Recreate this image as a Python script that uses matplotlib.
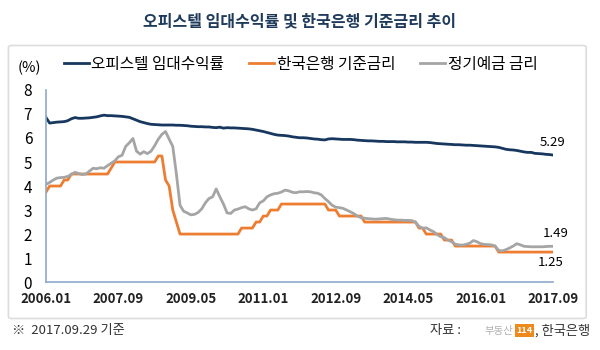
import numpy as np
import matplotlib.pyplot as plt
from matplotlib.patches import FancyBboxPatch

plt.rcParams['font.family'] = ['Noto Sans CJK KR', 'DejaVu Sans']

# 월별 데이터 (2006.01 ~ 2017.09)
tick_labels = ['2006.01', '2007.09', '2009.05', '2011.01',
               '2012.09', '2014.05', '2016.01', '2017.09']

officetel_yield = [
    6.85, 6.62, 6.64, 6.66, 6.67, 6.68, 6.72, 6.80, 6.85, 6.82, 6.82, 6.83,
    6.84, 6.86, 6.88, 6.92, 6.95, 6.93, 6.93, 6.92, 6.91, 6.90, 6.88, 6.86,
    6.80, 6.74, 6.68, 6.64, 6.60, 6.57, 6.56, 6.55, 6.54, 6.54, 6.54, 6.54,
    6.53, 6.53, 6.52, 6.51, 6.49, 6.48, 6.47, 6.47, 6.46, 6.46, 6.44, 6.43,
    6.45, 6.41, 6.43, 6.42, 6.42, 6.41, 6.40, 6.39, 6.38, 6.36, 6.33, 6.30,
    6.27, 6.23, 6.19, 6.15, 6.12, 6.11, 6.10, 6.08, 6.05, 6.03, 6.01, 6.01,
    6.00, 5.98, 5.96, 5.95, 5.93, 5.92, 5.96, 5.97, 5.96, 5.95, 5.94, 5.94,
    5.94, 5.93, 5.91, 5.90, 5.89, 5.88, 5.88, 5.87, 5.86, 5.86, 5.85, 5.85,
    5.85, 5.84, 5.84, 5.84, 5.83, 5.83, 5.82, 5.82, 5.82, 5.82, 5.81, 5.79,
    5.77, 5.76, 5.75, 5.74, 5.73, 5.72, 5.72, 5.71, 5.70, 5.70, 5.69, 5.68,
    5.67, 5.66, 5.65, 5.64, 5.63, 5.61, 5.57, 5.53, 5.51, 5.50, 5.48, 5.45,
    5.42, 5.40, 5.40, 5.36, 5.35, 5.34, 5.32, 5.31, 5.29,
]

base_rate = [
    3.75, 4.00, 4.00, 4.00, 4.00, 4.25, 4.25, 4.50, 4.50, 4.50, 4.50, 4.50,
    4.50, 4.50, 4.50, 4.50, 4.50, 4.50, 4.75, 5.00, 5.00, 5.00, 5.00, 5.00,
    5.00, 5.00, 5.00, 5.00, 5.00, 5.00, 5.00, 5.25, 5.25, 4.25, 4.00, 3.00,
    2.50, 2.00, 2.00, 2.00, 2.00, 2.00, 2.00, 2.00, 2.00, 2.00, 2.00, 2.00,
    2.00, 2.00, 2.00, 2.00, 2.00, 2.00, 2.25, 2.25, 2.25, 2.25, 2.50, 2.50,
    2.75, 2.75, 3.00, 3.00, 3.00, 3.25, 3.25, 3.25, 3.25, 3.25, 3.25, 3.25,
    3.25, 3.25, 3.25, 3.25, 3.25, 3.25, 3.00, 3.00, 3.00, 2.75, 2.75, 2.75,
    2.75, 2.75, 2.75, 2.75, 2.50, 2.50, 2.50, 2.50, 2.50, 2.50, 2.50, 2.50,
    2.50, 2.50, 2.50, 2.50, 2.50, 2.50, 2.50, 2.25, 2.25, 2.00, 2.00, 2.00,
    2.00, 2.00, 1.75, 1.75, 1.75, 1.50, 1.50, 1.50, 1.50, 1.50, 1.50, 1.50,
    1.50, 1.50, 1.50, 1.50, 1.50, 1.25, 1.25, 1.25, 1.25, 1.25, 1.25, 1.25,
    1.25, 1.25, 1.25, 1.25, 1.25, 1.25, 1.25, 1.25, 1.25,
]

deposit_rate = [
    4.07, 4.15, 4.25, 4.33, 4.35, 4.36, 4.40, 4.48, 4.57, 4.52, 4.48, 4.50,
    4.62, 4.74, 4.72, 4.76, 4.74, 4.85, 4.95, 5.05, 5.22, 5.28, 5.65, 5.80,
    5.98, 5.45, 5.33, 5.43, 5.35, 5.45, 5.68, 5.95, 6.15, 6.27, 5.95, 5.65,
    4.50, 3.20, 2.95, 2.88, 2.80, 2.82, 2.90, 3.05, 3.30, 3.48, 3.55, 3.88,
    3.55, 3.25, 2.88, 2.86, 3.00, 3.04, 3.10, 3.14, 3.05, 3.00, 3.05, 3.30,
    3.38, 3.55, 3.63, 3.68, 3.70, 3.75, 3.83, 3.80, 3.74, 3.72, 3.76, 3.76,
    3.77, 3.76, 3.72, 3.70, 3.63, 3.48, 3.35, 3.20, 3.12, 3.10, 3.07, 3.00,
    2.93, 2.85, 2.75, 2.68, 2.66, 2.64, 2.63, 2.62, 2.63, 2.64, 2.65, 2.62,
    2.60, 2.58, 2.58, 2.57, 2.57, 2.56, 2.50, 2.32, 2.24, 2.26, 2.17, 2.10,
    1.98, 1.89, 1.85, 1.75, 1.68, 1.58, 1.55, 1.54, 1.57, 1.62, 1.73, 1.68,
    1.60, 1.57, 1.56, 1.55, 1.50, 1.32, 1.30, 1.35, 1.42, 1.50, 1.60, 1.55,
    1.49, 1.48, 1.47, 1.47, 1.47, 1.47, 1.48, 1.49, 1.49,
]

months = np.arange(len(officetel_yield))

navy = '#17375e'
orange = '#ed7d31'
grey = '#a5a5a5'

fig = plt.figure(figsize=(6, 3.5), dpi=100)

# 바깥 테두리 박스 (축 뒤에 그림)
box = FancyBboxPatch((0.014, 0.09), 0.963, 0.78, boxstyle='round,pad=0,rounding_size=0.006',
                     transform=fig.transFigure, facecolor='white', edgecolor='#dcdcdc',
                     lw=1.2, zorder=-10)
fig.patches.append(box)

fig.text(0.5, 0.94, '오피스텔 임대수익률 및 한국은행 기준금리 추이', ha='center', va='center',
         fontsize=11.5, fontweight='bold', color='#1f3b5c')

ax = fig.add_axes([0.0767, 0.194, 0.845, 0.549])
ax.set_zorder(5)
ax.patch.set_alpha(0)
ax.plot(months, officetel_yield, color=navy, lw=2, label='오피스텔 임대수익률')
ax.plot(months, base_rate, color=orange, lw=2, label='한국은행 기준금리')
ax.plot(months, deposit_rate, color=grey, lw=2, label='정기예금 금리')

ax.set_xlim(0, months[-1])
ax.set_ylim(0, 8)
ax.set_yticks(range(0, 9))
ax.set_xticks(months[::20])
ax.set_xticklabels(tick_labels, fontsize=9.5, fontweight='bold', color='#222222')
ax.tick_params(axis='y', labelsize=11, length=0, pad=10)
ax.tick_params(axis='x', length=0, pad=7)
for s in ['top', 'right']:
    ax.spines[s].set_visible(False)
for s in ['left', 'bottom']:
    ax.spines[s].set_color('#8da9c9')
    ax.spines[s].set_linewidth(1.2)

ax.text(-0.032, 1.115, '(%)', transform=ax.transAxes, fontsize=10.5, ha='center', va='center')

ax.annotate(f'{officetel_yield[-1]:.2f}', (months[-1], officetel_yield[-1]), xytext=(0, 9),
            textcoords='offset points', fontsize=9.5, ha='center', va='center')
ax.annotate(f'{deposit_rate[-1]:.2f}', (months[-1], deposit_rate[-1]), xytext=(2, 9.5),
            textcoords='offset points', fontsize=9.5, ha='center', va='center')
ax.annotate(f'{base_rate[-1]:.2f}', (months[-1], base_rate[-1]), xytext=(-1.5, -7.5),
            textcoords='offset points', fontsize=9.5, ha='center', va='center')

ax.legend(loc='center left', bbox_to_anchor=(0.035, 1.135), ncol=3, frameon=False,
          fontsize=11.3, handlelength=1.6, handletextpad=0.15, columnspacing=1.6,
          borderaxespad=0, borderpad=0)

# 하단 주석
fig.text(0.02, 0.055, '※  2017.09.29 기준', fontsize=9.5, va='center', color='#333333')
fig.text(0.717, 0.055, '자료 : ', fontsize=9.5, va='center', color='#333333')
fig.text(0.855, 0.055, '부동산', fontsize=7.5, va='center', ha='right', color='#b0b0b0')
fig.text(0.874, 0.055, '114', fontsize=6.5, va='center', ha='center', color='white',
         fontweight='bold',
         bbox=dict(boxstyle='square,pad=0.2', facecolor='#ee8a1c', edgecolor='none'))
fig.text(0.983, 0.055, ', 한국은행', fontsize=9.5, va='center', ha='right', color='#333333')

fig.savefig('out.png', dpi=100)
